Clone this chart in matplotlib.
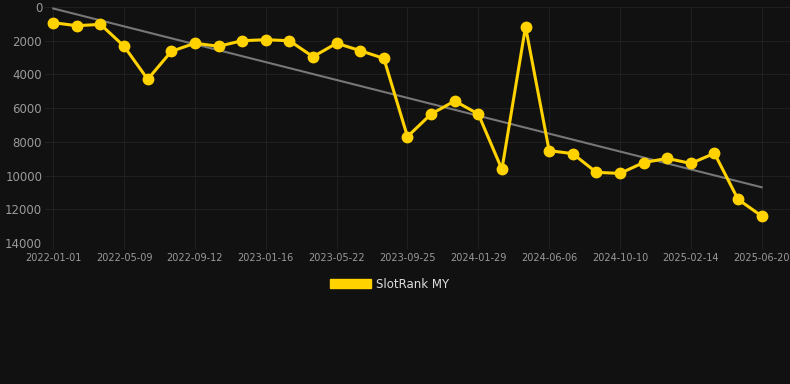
import matplotlib
matplotlib.use("Agg")
import matplotlib.pyplot as plt
import numpy as np
from matplotlib.patches import Patch

# ---- data ----
tick_dates = ["2022-01-01", "2022-05-09", "2022-09-12", "2023-01-16", "2023-05-22",
              "2023-09-25", "2024-01-29", "2024-06-06", "2024-10-10", "2025-02-14",
              "2025-06-20"]
rank_values = [930, 1110, 1030, 2330, 4290, 2630, 2150, 2330, 2000, 1940,
               2000, 2950, 2150, 2590, 3050, 7690, 6350, 5575, 6350, 9630,
               1170, 8520, 8700, 9810, 9870, 9230, 8980, 9280, 8680, 11410,
               12400]
series_name = "SlotRank MY"
y_ticks = [0, 2000, 4000, 6000, 8000, 10000, 12000, 14000]

BG = "#111111"
GOLD = "#FFD200"
TEXT = "#9a9a9a"
GRID = "#202020"

fig = plt.figure(figsize=(7.9, 3.84), dpi=100, facecolor=BG)
ax = fig.add_axes([45/790, 1-243/384, 1-45/790, (243-7)/384])
ax.set_facecolor(BG)

x = np.arange(len(rank_values))
# trend line (linear fit)
coef = np.polyfit(x, rank_values, 1)
ax.plot(x, np.polyval(coef, x), color="#777777", lw=1.5, zorder=2)
ax.plot(x, rank_values, color=GOLD, lw=2.2, marker="o", ms=7.5,
        markerfacecolor=GOLD, markeredgecolor=GOLD, zorder=3, label=series_name)

ax.set_ylim(14000, 0)
ax.set_yticks(y_ticks)
ax.set_yticklabels([str(v) for v in y_ticks])
tick_pos = x[::3]
ax.set_xticks(tick_pos)
ax.set_xticklabels(tick_dates)
ax.set_xlim(-0.35, len(rank_values) - 1 + 1.2)

ax.grid(True, color=GRID, lw=0.8)
ax.set_axisbelow(True)
for s in ax.spines.values():
    s.set_visible(False)
ax.tick_params(axis="y", colors=TEXT, labelsize=8.5, length=0, pad=2)
ax.tick_params(axis="x", colors=TEXT, labelsize=7, length=4, color=GRID, pad=3)

leg = fig.legend(handles=[Patch(facecolor=GOLD, edgecolor=GOLD, label=series_name)],
                 loc="center", bbox_to_anchor=(390/790, 1-284/384), frameon=False,
                 fontsize=8.5, handlelength=3.4, handleheight=0.9, handletextpad=0.5)
for t in leg.get_texts():
    t.set_color("#dddddd")

fig.savefig("out.png", dpi=100, facecolor=BG)
